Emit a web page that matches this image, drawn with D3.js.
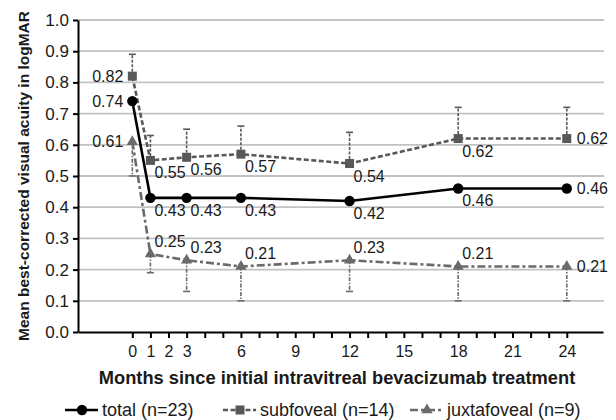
<!DOCTYPE html>
<html>
<head>
<meta charset="utf-8">
<script src="https://cdn.jsdelivr.net/npm/d3@7"></script>
<style>
  body { margin: 0; background: #fff; }
  svg { font-family: "Liberation Sans", Arial, sans-serif; }
</style>
</head>
<body>
<svg id="chart" width="616" height="420"></svg>
<script>
// values
var months = [0, 1, 3, 6, 12, 18, 24];
var total = [0.74, 0.43, 0.43, 0.43, 0.42, 0.46, 0.46];
var subfoveal = [0.82, 0.55, 0.56, 0.57, 0.54, 0.62, 0.62];
var juxtafoveal = [0.61, 0.25, 0.23, 0.21, 0.23, 0.21, 0.21];
var subfovealUpper = [0.89, 0.63, 0.65, 0.66, 0.64, 0.72, 0.72];
var juxtafovealLower = [0.50, 0.19, 0.13, 0.10, 0.13, 0.10, 0.10];
var xTickLabels = [0, 1, 2, 3, 6, 9, 12, 15, 18, 21, 24];
var yTicks = [0, 0.1, 0.2, 0.3, 0.4, 0.5, 0.6, 0.7, 0.8, 0.9, 1.0];
var seriesNames = ['total (n=23)', 'subfoveal (n=14)', 'juxtafoveal (n=9)'];

var svg = d3.select('#chart');

var x = d3.scaleLinear().domain([-3, 26]).range([78, 603]);
var y = d3.scaleLinear().domain([0, 1]).range([332, 20]);

var fmt = d3.format('.2f');

// series styling
var series = [
  { name: seriesNames[0], values: total, color: '#000', dash: null, marker: 'circle', labelPos: 'below' },
  { name: seriesNames[1], values: subfoveal, color: '#585858', dash: '5,2.5', marker: 'square', labelPos: 'below' },
  { name: seriesNames[2], values: juxtafoveal, color: '#6a6a6a', dash: '8,3,3,3', marker: 'triangle', labelPos: 'above' }
];

//gridlines
svg.append('g').selectAll('line')
  .data(yTicks.filter(function(d){ return d > 0; }))
  .enter().append('line')
  .attr('x1', x(-3)).attr('x2', 604)
  .attr('y1', function(d){ return y(d); })
  .attr('y2', function(d){ return y(d); })
  .attr('stroke', '#c2c2c2')
  .attr('stroke-width', 1.8);

//axes
var xAxis = d3.axisBottom(x)
  .tickValues(d3.range(0, 25))
  .tickSize(6)
  .tickSizeOuter(0)
  .tickPadding(8)
  .tickFormat(function(d){ return xTickLabels.indexOf(d) >= 0 ? d : ''; });

var yAxis = d3.axisLeft(y)
  .tickValues(yTicks)
  .tickSize(5)
  .tickSizeOuter(0)
  .tickPadding(4)
  .tickFormat(d3.format('.1f'));

var xg = svg.append('g')
  .attr('transform', 'translate(0,' + y(0) + ')')
  .call(xAxis);
xg.selectAll('text').style('font-size', '16px').attr('fill', '#1a1a1a');

var yg = svg.append('g')
  .attr('transform', 'translate(' + x(-3) + ',0)')
  .call(yAxis);
yg.selectAll('text').style('font-size', '17px').attr('fill', '#1a1a1a');

svg.selectAll('.domain, .tick line')
  .attr('stroke', '#000')
  .attr('stroke-width', 2);

//error bars
var errorBars = function(values, bounds, color, dash){
  var g = svg.append('g');
  months.forEach(function(m, i){
    g.append('line')
      .attr('x1', x(m)).attr('x2', x(m))
      .attr('y1', y(values[i])).attr('y2', y(bounds[i]))
      .attr('stroke', color)
      .attr('stroke-width', 1.6)
      .attr('stroke-dasharray', dash);
    g.append('line')
      .attr('x1', x(m) - 3.5).attr('x2', x(m) + 3.5)
      .attr('y1', y(bounds[i])).attr('y2', y(bounds[i]))
      .attr('stroke', color)
      .attr('stroke-width', 1.6);
  });
};
errorBars(subfoveal, subfovealUpper, '#585858', '3,1.5');
errorBars(juxtafoveal, juxtafovealLower, '#6a6a6a', '4,1.5,1.5,1.5');

//lines
var line = d3.line()
  .x(function(d, i){ return x(months[i]); })
  .y(function(d){ return y(d); });

series.slice().reverse().forEach(function(s){
  svg.append('path')
    .attr('d', line(s.values))
    .attr('fill', 'none')
    .attr('stroke', s.color)
    .attr('stroke-width', 2.6)
    .attr('stroke-dasharray', s.dash);
});

//markers
var drawMarker = function(sel, type, color){
  if (type === 'circle') {
    sel.append('circle').attr('r', 5.2).attr('fill', color);
  } else if (type === 'square') {
    sel.append('rect')
      .attr('x', -4.5).attr('y', -4.5)
      .attr('width', 9).attr('height', 9)
      .attr('fill', color);
  } else {
    sel.append('path')
      .attr('d', d3.symbol(d3.symbolTriangle, 55)())
      .attr('fill', color);
  }
};

series.slice().reverse().forEach(function(s){
  s.values.forEach(function(v, i){
    var g = svg.append('g')
      .attr('transform', 'translate(' + x(months[i]) + ',' + y(v) + ')');
    drawMarker(g, s.marker, s.color);
  });
});

//data labels
series.forEach(function(s){
  s.values.forEach(function(v, i){
    var px = x(months[i]), py = y(v);
    var t = svg.append('text')
      .text(fmt(v))
      .attr('fill', '#1a1a1a')
      .style('font-size', '16px');
    if (i === 0) {
      t.attr('x', px - 9).attr('y', py).attr('dy', '0.35em').attr('text-anchor', 'end');
    } else if (i === s.values.length - 1) {
      t.attr('x', px + 10).attr('y', py).attr('dy', '0.35em');
    } else if (s.labelPos === 'below') {
      t.attr('x', px + 4).attr('y', py + 18);
    } else {
      t.attr('x', px + 4).attr('y', py - 7);
    }
  });
});

//axis titles
svg.append('text')
  .attr('x', 337).attr('y', 384)
  .attr('text-anchor', 'middle')
  .style('font-size', '18.3px')
  .style('font-weight', 'bold')
  .attr('fill', '#1a1a1a')
  .text('Months since initial intravitreal bevacizumab treatment');

svg.append('text')
  .attr('transform', 'translate(29,176) rotate(-90)')
  .attr('text-anchor', 'middle')
  .style('font-size', '15.5px')
  .style('font-weight', 'bold')
  .attr('fill', '#1a1a1a')
  .text('Mean best-corrected visual acuity in logMAR');

//legend
var legendX = [65, 223, 410];
var legendG = svg.append('g').attr('transform', 'translate(0,410)');

series.forEach(function(s, i){
  var lg = legendG.append('g').attr('transform', 'translate(' + legendX[i] + ',0)');
  lg.append('line')
    .attr('x1', 0).attr('x2', 33)
    .attr('stroke', s.color)
    .attr('stroke-width', 2.6)
    .attr('stroke-dasharray', s.dash);
  var mg = lg.append('g').attr('transform', 'translate(17,0)');
  drawMarker(mg, s.marker, s.color);
  lg.append('text')
    .attr('x', 37).attr('dy', '0.35em')
    .style('font-size', '18px')
    .attr('fill', '#1a1a1a')
    .text(s.name);
});
</script>
</body>
</html>
